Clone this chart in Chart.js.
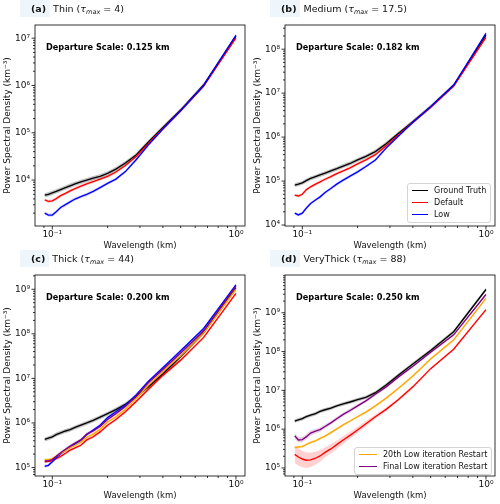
<!DOCTYPE html>
<html>
<head>
<meta charset="utf-8">
<script src="https://cdn.jsdelivr.net/npm/chart.js@4.4.0/dist/chart.umd.min.js"></script>
<style>
  body { margin: 0; background: #fff; font-family: "DejaVu Sans", sans-serif; color: #111; }
  #wrap { position: relative; width: 500px; height: 504px; }
  .panel { position: absolute; width: 250px; height: 250px; }
  .panel canvas { position: absolute; left: 0; top: 0; }
  .ttl { position: absolute; top: 0; left: 20px; font-size: 9.5px; line-height: 17px; white-space: nowrap; }
  .ttl b { display: inline-block; background: #eef5fb; padding: 0 4px 0 11px; margin-right: 3px; }
  .ttl sub { font-size: 6.5px; vertical-align: -2px; line-height: 0; }
  .leg { position: absolute; background: rgba(255,255,255,0.85); border: 1px solid #d4d4d4; border-radius: 3px;
         font-size: 8px; padding: 1px 4px 1px 4px; }
  .leg div { height: 12px; line-height: 12px; white-space: nowrap; }
  .leg span { display: inline-block; height: 0; border-top: 1.4px solid; vertical-align: middle; margin-right: 6px; }
</style>
</head>
<body>
<div id="wrap"></div>
<script>
/**************************************************
 DATA
**************************************************/
const wavelength = [0.0909, 0.0952, 0.1, 0.105, 0.111, 0.118, 0.125, 0.133, 0.143, 0.154, 0.167,
                    0.182, 0.2, 0.222, 0.25, 0.286, 0.333, 0.4, 0.5, 0.667, 1.0];

// (a) Thin
const thinTruth   = [4790, 5010, 5370, 5750, 6310, 6920, 7590, 8320, 9120, 1.0e4, 1.10e4, 1.20e4, 1.38e4, 1.70e4, 2.29e4, 3.39e4, 6.31e4, 1.29e5, 3.02e5, 1.02e6, 1.10e7];
const thinDefault = [3800, 3550, 3630, 4070, 4680, 5250, 5890, 6610, 7410, 8320, 9330, 1.05e4, 1.20e4, 1.48e4, 2.04e4, 3.16e4, 5.89e4, 1.23e5, 2.95e5, 9.77e5, 1.02e7];
const thinLow     = [2000, 1820, 1820, 2140, 2630, 3020, 3470, 3980, 4470, 5010, 5750, 6920, 8510, 1.05e4, 1.51e4, 2.69e4, 5.50e4, 1.20e5, 2.95e5, 1.0e6, 1.15e7];

// (b) Medium
const mediumTruth   = [8.1e4, 8.5e4, 9.1e4, 1.02e5, 1.15e5, 1.26e5, 1.38e5, 1.51e5, 1.70e5, 1.91e5, 2.19e5, 2.51e5, 3.02e5, 3.63e5, 4.68e5, 7.08e5, 1.20e6, 2.24e6, 4.90e6, 1.51e7, 2.09e8];
const mediumDefault = [4.79e4, 4.57e4, 5.01e4, 6.31e4, 7.41e4, 8.51e4, 9.55e4, 1.10e5, 1.26e5, 1.48e5, 1.70e5, 2.0e5, 2.45e5, 3.02e5, 3.98e5, 6.31e5, 1.12e6, 2.19e6, 4.79e6, 1.45e7, 1.86e8];
const mediumLow     = [1.86e4, 1.70e4, 1.86e4, 2.40e4, 3.09e4, 3.72e4, 4.37e4, 5.50e4, 6.76e4, 8.51e4, 1.05e5, 1.29e5, 1.62e5, 2.14e5, 3.02e5, 5.62e5, 1.05e6, 2.19e6, 4.90e6, 1.51e7, 2.29e8];

// (c) Thick
const thickTruth   = [4.27e5, 4.57e5, 4.90e5, 5.50e5, 6.03e5, 6.61e5, 7.08e5, 7.94e5, 8.91e5, 1.0e6, 1.15e6, 1.35e6, 1.62e6, 2.0e6, 2.63e6, 3.89e6, 6.46e6, 1.26e7, 3.09e7, 1.07e8, 1.05e9];
const thickDefault = [1.35e5, 1.38e5, 1.41e5, 1.58e5, 1.78e5, 2.09e5, 2.45e5, 2.75e5, 3.16e5, 4.17e5, 4.90e5, 6.31e5, 8.91e5, 1.20e6, 1.78e6, 3.02e6, 5.62e6, 1.17e7, 2.57e7, 8.32e7, 8.13e8];
const thickLow     = [1.07e5, 1.12e5, 1.35e5, 1.66e5, 2.04e5, 2.45e5, 2.88e5, 3.39e5, 4.07e5, 5.50e5, 6.92e5, 8.91e5, 1.32e6, 1.78e6, 2.51e6, 4.27e6, 8.51e6, 1.74e7, 4.17e7, 1.32e8, 1.26e9];
const thick20th    = [1.51e5, 1.51e5, 1.58e5, 1.78e5, 2.09e5, 2.40e5, 2.82e5, 3.16e5, 3.72e5, 4.79e5, 5.62e5, 7.24e5, 1.05e6, 1.38e6, 2.04e6, 3.55e6, 6.92e6, 1.45e7, 3.24e7, 1.05e8, 1.0e9];
const thickFinal   = [1.41e5, 1.41e5, 1.51e5, 1.78e5, 2.14e5, 2.57e5, 3.02e5, 3.55e5, 4.17e5, 5.62e5, 6.61e5, 8.32e5, 1.20e6, 1.62e6, 2.34e6, 3.98e6, 7.94e6, 1.58e7, 3.72e7, 1.17e8, 1.17e9];

// (d) VeryThick
const veryThickTruth   = [1.62e6, 1.74e6, 1.86e6, 2.09e6, 2.29e6, 2.51e6, 2.88e6, 3.16e6, 3.47e6, 3.98e6, 4.47e6, 5.01e6, 5.75e6, 6.61e6, 8.71e6, 1.38e7, 2.45e7, 4.79e7, 1.07e8, 3.24e8, 3.98e9];
const veryThickDefault = [2.24e5, 1.91e5, 1.70e5, 1.58e5, 1.62e5, 1.78e5, 2.04e5, 2.51e5, 3.09e5, 3.98e5, 5.25e5, 6.92e5, 9.55e5, 1.38e6, 2.09e6, 3.24e6, 5.75e6, 1.23e7, 3.63e7, 1.15e8, 1.20e9];
const veryThick20th    = [3.39e5, 3.47e5, 3.55e5, 3.98e5, 4.57e5, 5.01e5, 5.75e5, 6.61e5, 8.13e5, 1.02e6, 1.29e6, 1.62e6, 2.09e6, 2.75e6, 3.98e6, 6.31e6, 1.12e7, 2.34e7, 6.46e7, 2.0e8, 2.34e9];
const veryThickFinal   = [6.76e5, 5.25e5, 5.37e5, 6.31e5, 7.94e5, 8.91e5, 9.77e5, 1.17e6, 1.45e6, 1.86e6, 2.40e6, 3.02e6, 3.98e6, 5.37e6, 7.94e6, 1.23e7, 2.19e7, 4.17e7, 9.55e7, 2.69e8, 2.95e9];

// shaded spread around each mean curve, in decades
const spreadTruth = 0.045, spreadOther = 0.035;
const veryThickDefaultSpread = [0.22, 0.22, 0.21, 0.2, 0.19, 0.17, 0.15, 0.13, 0.12, 0.11, 0.1, 0.09, 0.08, 0.07, 0.06, 0.05, 0.04, 0.04, 0.03, 0.03, 0.03];
const veryThickFinalSpread   = [0.07, 0.07, 0.07, 0.07, 0.07, 0.06, 0.06, 0.06, 0.05, 0.05, 0.05, 0.05, 0.04, 0.04, 0.04, 0.04, 0.03, 0.03, 0.03, 0.03, 0.03];

const departureScale = ["0.125", "0.182", "0.200", "0.250"];

/**************************************************
 PANELS
**************************************************/
const C = { truth: "#000000", def: "#ff0000", low: "#0000ff", r20: "#ffa500", fin: "#800080" };

const panels = [
  { left: 0, top: 0, tag: "(a)", name: "Thin", tau: "4", yMin: 1.07e3, yMax: 1.9e7, dep: departureScale[0],
    series: [["Ground Truth", C.truth, thinTruth, spreadTruth], ["Default", C.def, thinDefault, spreadOther], ["Low", C.low, thinLow, spreadOther]] },
  { left: 250, top: 0, tag: "(b)", name: "Medium", tau: "17.5", yMin: 9.5e3, yMax: 3.55e8, dep: departureScale[1],
    series: [["Ground Truth", C.truth, mediumTruth, spreadTruth], ["Default", C.def, mediumDefault, spreadOther], ["Low", C.low, mediumLow, spreadOther]],
    legend: { left: 157, top: 183, line: 16, items: ["Ground Truth", "Default", "Low"] } },
  { left: 0, top: 250, tag: "(c)", name: "Thick", tau: "44", yMin: 6.46e4, yMax: 2.09e9, dep: departureScale[2],
    series: [["Ground Truth", C.truth, thickTruth, spreadTruth], ["Default", C.def, thickDefault, spreadOther], ["Low", C.low, thickLow, spreadOther],
             ["20th Low iteration Restart", C.r20, thick20th, spreadOther], ["Final Low iteration Restart", C.fin, thickFinal, spreadOther]] },
  { left: 250, top: 250, tag: "(d)", name: "VeryThick", tau: "88", yMin: 6.2e4, yMax: 9.4e9, dep: departureScale[3],
    series: [["Ground Truth", C.truth, veryThickTruth, spreadTruth], ["Default", C.def, veryThickDefault, veryThickDefaultSpread],
             ["20th Low iteration Restart", C.r20, veryThick20th, spreadOther], ["Final Low iteration Restart", C.fin, veryThickFinal, veryThickFinalSpread]],
    legend: { left: 104, top: 197, line: 18, items: ["20th Low iteration Restart", "Final Low iteration Restart"] } }
];

/**************************************************
 HELPERS
**************************************************/
const SUP = { "-": "\u207b", "0": "\u2070", "1": "\u00b9", "2": "\u00b2", "3": "\u00b3", "4": "\u2074",
              "5": "\u2075", "6": "\u2076", "7": "\u2077", "8": "\u2078", "9": "\u2079" };
const isPow10 = v => Math.abs(Math.log10(v) - Math.round(Math.log10(v))) < 1e-6;
const powLabel = v => "10" + String(Math.round(Math.log10(v))).split("").map(c => SUP[c]).join("");

function logTicks(min, max) {
  const out = [];
  for (let e = Math.floor(Math.log10(min)); e <= Math.ceil(Math.log10(max)); e++)
    for (let m = 1; m <= 9; m++) {
      const v = m * Math.pow(10, e);
      if (v >= min && v <= max) out.push({ value: v });
    }
  return out;
}

function hexA(hex, a) {
  const n = parseInt(hex.slice(1), 16);
  return `rgba(${n >> 16},${(n >> 8) & 255},${n & 255},${a})`;
}

// frame, matplotlib-style tick marks and the departure-scale note
const axesDeco = {
  id: "axesDeco",
  afterDraw(chart, args, opts) {
    const { ctx, chartArea: a } = chart;
    ctx.save();
    ctx.strokeStyle = "#000";
    ctx.lineWidth = 0.8;
    ctx.strokeRect(a.left, a.top, a.right - a.left, a.bottom - a.top);
    for (const id of ["x", "y"]) {
      const s = chart.scales[id];
      s.ticks.forEach(t => {
        const p = s.getPixelForValue(t.value);
        const len = isPow10(t.value) ? 3.5 : 2;
        ctx.beginPath();
        if (id === "x") { ctx.moveTo(p, a.bottom); ctx.lineTo(p, a.bottom + len); }
        else { ctx.moveTo(a.left, p); ctx.lineTo(a.left - len, p); }
        ctx.stroke();
      });
    }
    ctx.fillStyle = "#000";
    ctx.font = 'bold 8.2px "DejaVu Sans"';
    ctx.textBaseline = "middle";
    ctx.fillText("Departure Scale: " + opts.dep + " km", a.left + 11, a.top + 23);
    ctx.restore();
  }
};

/**************************************************
 BUILD
**************************************************/
const wrap = document.getElementById("wrap");

panels.forEach(p => {
  const div = document.createElement("div");
  div.className = "panel";
  div.style.left = p.left + "px";
  div.style.top = p.top + "px";
  div.innerHTML = `<canvas width="250" height="250"></canvas>
    <div class="ttl"><b>${p.tag}</b>${p.name} (<i>τ</i><sub><i>max</i></sub> = ${p.tau})</div>`;
  wrap.appendChild(div);

  const datasets = [];
  const n = p.series.length;
  p.series.forEach(([label, color, vals, spread], k) => {
    const sp = i => Array.isArray(spread) ? spread[i] : spread;
    datasets.push({ label: label + " lo", data: wavelength.map((w, i) => ({ x: w, y: vals[i] / Math.pow(10, sp(i)) })),
      borderWidth: 0, pointRadius: 0, fill: false, order: 100 });
    datasets.push({ label: label + " hi", data: wavelength.map((w, i) => ({ x: w, y: vals[i] * Math.pow(10, sp(i)) })),
      borderWidth: 0, pointRadius: 0, fill: "-1", backgroundColor: hexA(color, color === C.truth ? 0.25 : 0.18), order: 100 });
    datasets.push({ label, data: wavelength.map((w, i) => ({ x: w, y: vals[i] })),
      borderColor: color, borderWidth: 1.35, pointRadius: 0, tension: 0, fill: false, order: n - k });
  });

  new Chart(div.querySelector("canvas"), {
    type: "line",
    data: { datasets },
    plugins: [axesDeco],
    options: {
      responsive: false, animation: false, devicePixelRatio: 1,
      layout: { padding: { left: 0, right: 5, top: 25, bottom: 0 } },
      plugins: { legend: { display: false }, tooltip: { enabled: false }, axesDeco: { dep: p.dep } },
      scales: {
        x: {
          type: "logarithmic", min: 0.0805, max: 1.12,
          afterBuildTicks: s => { s.ticks = logTicks(s.min, s.max); },
          afterFit: s => { s.height = 24; },
          grid: { display: false, drawTicks: false }, border: { display: false },
          ticks: { autoSkip: false, maxRotation: 0, padding: 3, color: "#111",
                   font: { family: "DejaVu Sans", size: 9 },
                   callback: v => isPow10(v) ? powLabel(v) : "" },
          title: { display: true, text: "Wavelength (km)", color: "#111", padding: { top: 0, bottom: 0 },
                   font: { family: "DejaVu Sans", size: 8.5, lineHeight: 1 } }
        },
        y: {
          type: "logarithmic", min: p.yMin, max: p.yMax,
          afterBuildTicks: s => { s.ticks = logTicks(s.min, s.max); },
          afterFit: s => { s.width = 35; },
          grid: { display: false, drawTicks: false }, border: { display: false },
          ticks: { autoSkip: false, padding: 5, color: "#111",
                   font: { family: "DejaVu Sans", size: 9 },
                   callback: v => isPow10(v) ? powLabel(v) : "" },
          title: { display: true, text: "Power Spectral Density (km\u207b\u00b3)", color: "#111",
                   padding: { top: 3.5, bottom: 0 },
                   font: { family: "DejaVu Sans", size: 9, lineHeight: 1 } }
        }
      }
    }
  });

  if (p.legend) {
    const lg = document.createElement("div");
    lg.className = "leg";
    lg.style.left = p.legend.left + "px";
    lg.style.top = p.legend.top + "px";
    lg.innerHTML = p.legend.items.map(name => {
      const s = p.series.find(r => r[0] === name);
      return `<div><span style="width:${p.legend.line}px;border-color:${s[1]}"></span>${name}</div>`;
    }).join("");
    div.appendChild(lg);
  }
});
</script>
</body>
</html>
